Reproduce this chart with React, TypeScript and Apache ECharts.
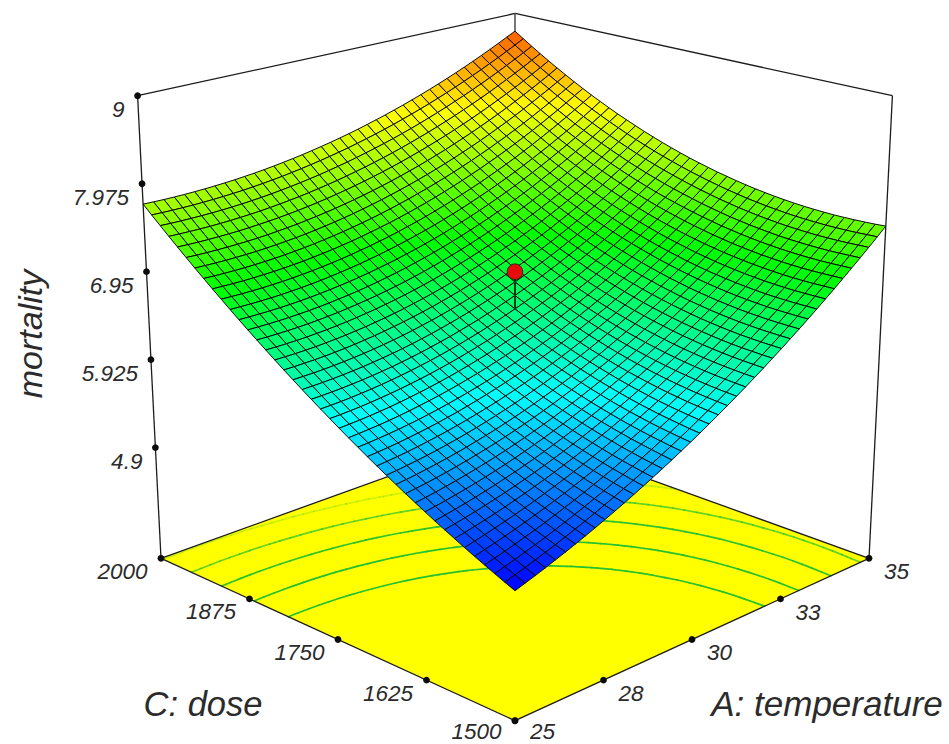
import React, { useEffect, useRef } from "react";
import * as echarts from "echarts";

const temperatureTicks = [25, 27.5, 30, 32.5, 35];
const temperatureLabels = ["25", "28", "30", "33", "35"];
const doseTicks = [1500, 1625, 1750, 1875, 2000];
const doseLabels = ["1500", "1625", "1750", "1875", "2000"];
const mortalityTicks = [4.9, 5.925, 6.95, 7.975, 9];
const mortalityLabels = ["4.9", "5.925", "6.95", "7.975", "9"];
const contourLevels = [6.5, 6.81, 7.13, 7.45, 7.77];
const designPoint = [30, 1750, 7.03];

// mortality x 100, one row per dose step (1500 to 2000), one column per temperature step (25 to 35)
const mortalityGrid: number[][] = [
[503.7,507.3,511.0,514.9,519.0,523.1,527.4,531.8,536.4,541.1,545.9,550.9,556.0,561.3,566.7,572.2,577.8,583.6,589.6,595.6,601.9,608.2,614.7,621.4,628.1,635.0,642.0,649.2,656.5,664.0,671.5,679.2,687.1,695.1,703.2,711.5,719.9,728.4,737.1,745.9,755.0],
[508.3,511.7,515.2,518.9,522.7,526.6,530.7,535.0,539.3,543.8,548.5,553.3,558.2,563.3,568.5,573.9,579.4,585.0,590.8,596.7,602.9,609.1,615.5,622.0,628.6,635.4,642.3,649.4,656.6,664.0,671.5,679.1,686.9,694.8,702.9,711.1,719.4,727.9,736.5,745.3,754.1],
[513.1,516.2,519.5,523.0,526.6,530.3,534.2,538.3,542.5,546.8,551.3,555.9,560.7,565.6,570.7,575.9,581.3,586.8,592.4,598.2,604.1,610.2,616.4,622.8,629.3,636.0,642.8,649.8,656.9,664.1,671.5,679.0,686.7,694.6,702.5,710.7,718.9,727.3,735.9,744.6,753.5],
[518.0,520.9,524.0,527.3,530.7,534.2,537.9,541.8,545.8,549.9,554.2,558.7,563.3,568.0,572.9,578.0,583.2,588.5,594.0,599.7,605.5,611.4,617.5,623.8,630.2,636.7,643.4,650.3,657.3,664.4,671.7,679.2,686.8,694.5,702.4,710.5,718.7,727.0,735.5,744.2,753.0],
[522.9,525.7,528.6,531.7,534.9,538.2,541.7,545.4,549.2,553.2,557.3,561.6,566.0,570.6,575.3,580.2,585.3,590.5,595.8,601.3,607.0,612.9,618.8,625.0,631.3,637.7,644.3,651.0,657.9,665.0,672.2,679.5,687.0,694.7,702.5,710.5,718.6,726.9,735.4,744.0,752.7],
[528.0,530.6,533.3,536.2,539.2,542.4,545.7,549.2,552.9,556.7,560.6,564.7,569.0,573.4,578.0,582.8,587.7,592.7,598.0,603.3,608.8,614.5,620.4,626.4,632.6,638.9,645.4,652.0,658.8,665.7,672.8,680.1,687.5,695.1,702.8,710.7,718.8,727.0,735.3,743.9,752.5],
[533.3,535.6,538.1,540.8,543.6,546.6,549.8,553.1,556.6,560.2,564.0,568.0,572.1,576.4,580.8,585.4,590.2,595.1,600.2,605.4,610.8,616.4,622.1,628.0,634.1,640.3,646.6,653.2,659.9,666.7,673.7,680.9,688.2,695.7,703.4,711.2,719.2,727.3,735.6,744.1,752.7],
[538.6,540.8,543.1,545.6,548.2,551.1,554.0,557.2,560.5,564.0,567.6,571.4,575.4,579.5,583.8,588.3,592.9,597.7,602.6,607.7,613.0,618.5,624.1,629.9,635.8,641.9,648.2,654.6,661.2,667.9,674.9,681.9,689.2,696.6,704.2,711.9,719.8,727.8,736.1,744.5,753.0],
[544.0,546.0,548.2,550.5,553.0,555.7,558.5,561.5,564.6,567.9,571.4,575.1,578.9,582.9,587.0,591.3,595.8,600.5,605.3,610.3,615.4,620.8,626.2,631.9,637.7,643.7,649.8,656.2,662.6,669.3,676.1,683.1,690.3,697.6,705.1,712.7,720.6,728.5,736.7,745.0,753.5],
[549.6,551.4,553.4,555.5,557.9,560.3,563.0,565.8,568.8,572.0,575.3,578.9,582.5,586.4,590.4,594.6,599.0,603.5,608.2,613.1,618.0,623.2,628.6,634.2,639.9,645.8,651.8,658.0,664.4,671.0,677.7,684.6,691.7,698.9,706.3,713.9,721.6,729.5,737.6,745.8,754.2],
[555.3,556.9,558.7,560.7,562.9,565.2,567.7,570.4,573.2,576.2,579.4,582.8,586.3,590.0,593.9,598.0,602.2,606.6,611.2,615.9,620.9,625.9,631.2,636.6,642.2,648.0,654.0,660.1,666.4,672.8,679.4,686.2,693.2,700.4,707.7,715.2,722.9,730.7,738.7,746.9,755.2],
[561.1,562.6,564.2,566.1,568.1,570.3,572.6,575.2,577.9,580.7,583.8,587.0,590.4,594.0,597.7,601.7,605.8,610.0,614.5,619.1,623.9,628.8,634.0,639.3,644.8,650.4,656.3,662.3,668.5,674.8,681.3,688.1,694.9,702.0,709.2,716.6,724.2,732.0,739.9,748.0,756.3],
[567.0,568.3,569.8,571.5,573.4,575.4,577.6,580.0,582.6,585.3,588.2,591.3,594.6,598.0,601.6,605.4,609.4,613.5,617.9,622.4,627.1,631.9,637.0,642.2,647.6,653.1,658.9,664.8,670.9,677.2,683.6,690.2,697.0,704.0,711.2,718.5,726.0,733.7,741.5,749.5,757.7],
[573.0,574.2,575.6,577.1,578.8,580.7,582.8,585.0,587.5,590.1,592.9,595.9,599.0,602.3,605.8,609.5,613.3,617.4,621.6,626.0,630.5,635.2,640.2,645.3,650.5,656.0,661.6,667.4,673.4,679.6,685.9,692.4,699.1,706.0,713.1,720.3,727.7,735.3,743.1,751.0,759.2],
[579.2,580.2,581.4,582.8,584.4,586.2,588.1,590.2,592.5,595.0,597.7,600.5,603.5,606.7,610.1,613.7,617.4,621.3,625.4,629.7,634.1,638.8,643.6,648.6,653.8,659.1,664.7,670.4,676.3,682.4,688.6,695.1,701.7,708.5,715.4,722.6,729.9,737.4,745.1,753.0,761.0],
[585.4,586.3,587.4,588.7,590.2,591.8,593.6,595.6,597.8,600.1,602.7,605.4,608.3,611.4,614.6,618.1,621.7,625.5,629.5,633.6,637.9,642.5,647.2,652.1,657.2,662.4,667.9,673.5,679.3,685.2,691.4,697.7,704.3,711.0,717.8,724.9,732.2,739.6,747.2,755.0,763.0],
[591.8,592.6,593.6,594.7,596.0,597.5,599.2,601.1,603.1,605.4,607.8,610.4,613.1,616.1,619.2,622.6,626.1,629.8,633.6,637.7,642.0,646.4,651.0,655.8,660.8,665.9,671.3,676.8,682.5,688.4,694.4,700.7,707.1,713.7,720.5,727.5,734.7,742.0,749.6,757.3,765.2],
[598.3,599.0,599.8,600.8,602.0,603.4,605.0,606.8,608.7,610.8,613.1,615.6,618.3,621.1,624.2,627.4,630.8,634.4,638.1,642.1,646.2,650.5,655.0,659.7,664.6,669.7,674.9,680.3,685.9,691.7,697.7,703.9,710.2,716.7,723.4,730.3,737.4,744.7,752.1,759.7,767.5],
[604.9,605.5,606.2,607.1,608.2,609.4,610.9,612.6,614.4,616.4,618.6,621.0,623.5,626.3,629.2,632.3,635.6,639.1,642.7,646.6,650.6,654.9,659.3,663.9,668.6,673.6,678.7,684.1,689.6,695.3,701.2,707.2,713.5,719.9,726.5,733.3,740.3,747.5,754.8,762.4,770.1],
[611.7,612.1,612.7,613.5,614.5,615.7,617.0,618.6,620.3,622.2,624.3,626.6,629.0,631.7,634.5,637.5,640.7,644.1,647.7,651.4,655.3,659.4,663.7,668.2,672.9,677.7,682.8,688.0,693.4,699.0,704.8,710.8,716.9,723.3,729.8,736.5,743.4,750.5,757.8,765.2,772.8],
[618.5,618.8,619.3,620.0,620.9,622.0,623.2,624.7,626.3,628.1,630.1,632.3,634.6,637.2,639.9,642.8,645.9,649.2,652.7,656.3,660.1,664.1,668.3,672.7,677.3,682.1,687.0,692.2,697.5,703.0,708.7,714.6,720.6,726.9,733.3,739.9,746.7,753.7,760.9,768.3,775.8],
[625.5,625.7,626.1,626.7,627.5,628.4,629.6,630.9,632.4,634.1,636.0,638.1,640.4,642.8,645.4,648.3,651.3,654.4,657.8,661.4,665.1,669.1,673.2,677.5,682.0,686.7,691.5,696.6,701.8,707.2,712.8,718.6,724.6,730.7,737.1,743.6,750.3,757.2,764.3,771.6,779.0],
[632.5,632.7,633.0,633.5,634.2,635.1,636.1,637.4,638.8,640.4,642.2,644.2,646.4,648.7,651.3,654.0,656.9,660.0,663.3,666.7,670.4,674.2,678.2,682.4,686.8,691.4,696.2,701.1,706.3,711.6,717.1,722.8,728.7,734.7,741.0,747.4,754.0,760.8,767.8,775.0,782.4],
[639.7,639.8,640.0,640.4,641.0,641.8,642.8,643.9,645.3,646.8,648.5,650.4,652.5,654.8,657.2,659.9,662.7,665.7,668.9,672.3,675.8,679.6,683.5,687.6,691.9,696.4,701.1,706.0,711.0,716.2,721.7,727.3,733.0,739.0,745.2,751.5,758.0,764.7,771.6,778.7,786.0],
[647.0,647.0,647.2,647.5,648.0,648.7,649.6,650.7,652.0,653.4,655.1,656.9,658.9,661.1,663.4,666.0,668.7,671.6,674.7,678.0,681.5,685.1,689.0,693.0,697.2,701.6,706.2,711.0,715.9,721.1,726.4,731.9,737.6,743.5,749.5,755.8,762.2,768.8,775.6,782.6,789.8],
[654.5,654.4,654.4,654.7,655.1,655.8,656.6,657.6,658.8,660.1,661.7,663.4,665.3,667.4,669.7,672.2,674.8,677.7,680.7,683.9,687.3,690.9,694.7,698.6,702.8,707.1,711.6,716.2,721.1,726.2,731.4,736.8,742.4,748.2,754.2,760.3,766.6,773.2,779.9,786.8,793.8],
[662.0,661.8,661.9,662.0,662.4,663.0,663.7,664.7,665.8,667.1,668.6,670.2,672.1,674.1,676.3,678.7,681.3,684.0,687.0,690.1,693.4,696.9,700.6,704.4,708.5,712.7,717.1,721.7,726.5,731.4,736.6,741.9,747.4,753.1,759.0,765.0,771.3,777.7,784.3,791.1,798.1],
[669.7,669.4,669.4,669.5,669.8,670.3,671.0,671.9,672.9,674.2,675.6,677.2,678.9,680.9,683.0,685.3,687.8,690.5,693.4,696.4,699.7,703.1,706.7,710.4,714.4,718.5,722.9,727.4,732.0,736.9,742.0,747.2,752.6,758.2,764.0,770.0,776.1,782.4,788.9,795.6,802.5],
[677.4,677.2,677.1,677.2,677.4,677.9,678.5,679.3,680.3,681.5,682.8,684.3,686.0,687.9,690.0,692.2,694.6,697.3,700.0,703.0,706.1,709.5,713.0,716.7,720.5,724.6,728.8,733.2,737.8,742.6,747.5,752.7,758.0,763.5,769.2,775.0,781.1,787.3,793.7,800.3,807.0],
[685.3,685.0,684.9,684.9,685.1,685.5,686.1,686.8,687.8,688.9,690.2,691.6,693.3,695.1,697.1,699.3,701.6,704.2,706.9,709.8,712.8,716.0,719.5,723.1,726.9,730.8,735.0,739.3,743.8,748.5,753.4,758.4,763.7,769.1,774.7,780.4,786.4,792.5,798.8,805.3,811.9],
[693.3,693.0,692.8,692.8,692.9,693.3,693.8,694.5,695.4,696.4,697.7,699.1,700.7,702.4,704.4,706.5,708.8,711.2,713.9,716.7,719.7,722.8,726.2,729.7,733.4,737.3,741.4,745.6,750.0,754.6,759.4,764.3,769.5,774.8,780.2,785.9,791.7,797.7,803.9,810.3,816.9],
[701.5,701.1,700.8,700.8,700.9,701.2,701.6,702.3,703.1,704.1,705.3,706.6,708.2,709.9,711.8,713.8,716.0,718.4,721.0,723.8,726.7,729.8,733.1,736.6,740.2,744.0,748.0,752.1,756.5,761.0,765.7,770.5,775.6,780.8,786.2,791.7,797.5,803.4,809.5,815.7,822.1],
[709.7,709.3,709.0,708.9,709.0,709.3,709.7,710.3,711.1,712.0,713.2,714.5,715.9,717.6,719.4,721.4,723.6,725.9,728.4,731.1,734.0,737.0,740.2,743.6,747.2,750.9,754.8,758.9,763.1,767.6,772.2,776.9,781.9,787.0,792.3,797.7,803.4,809.2,815.2,821.3,827.6],
[718.1,717.6,717.3,717.2,717.2,717.5,717.9,718.4,719.2,720.1,721.2,722.4,723.9,725.5,727.2,729.2,731.3,733.5,736.0,738.6,741.5,744.4,747.6,750.9,754.4,758.0,761.8,765.8,770.0,774.3,778.8,783.5,788.3,793.3,798.5,803.9,809.4,815.1,821.0,827.0,833.2],
[726.5,726.1,725.8,725.6,725.7,725.9,726.2,726.8,727.5,728.4,729.4,730.6,732.0,733.6,735.3,737.2,739.2,741.5,743.9,746.4,749.2,752.1,755.1,758.4,761.8,765.4,769.1,773.0,777.1,781.3,785.7,790.3,795.1,800.0,805.1,810.3,815.8,821.4,827.1,833.0,839.1],
[735.1,734.6,734.3,734.2,734.2,734.4,734.7,735.2,735.9,736.8,737.8,738.9,740.3,741.8,743.5,745.3,747.3,749.5,751.8,754.3,757.0,759.8,762.8,766.0,769.3,772.8,776.5,780.3,784.3,788.5,792.8,797.3,801.9,806.7,811.7,816.9,822.2,827.7,833.3,839.1,845.1],
[743.8,743.3,743.0,742.9,742.9,743.1,743.4,743.9,744.6,745.4,746.4,747.5,748.8,750.3,751.9,753.7,755.7,757.8,760.1,762.5,765.1,767.9,770.8,773.9,777.2,780.6,784.2,787.9,791.8,795.9,800.1,804.5,809.1,813.8,818.7,823.7,828.9,834.3,839.8,845.5,851.4],
[752.6,752.2,751.9,751.7,751.7,751.9,752.2,752.7,753.3,754.1,755.1,756.2,757.5,758.9,760.5,762.3,764.2,766.2,768.5,770.9,773.4,776.1,779.0,782.0,785.2,788.6,792.1,795.7,799.6,803.5,807.7,812.0,816.4,821.0,825.8,830.8,835.9,841.1,846.5,852.1,857.8],
[761.6,761.1,760.8,760.7,760.7,760.8,761.1,761.6,762.2,763.0,763.9,765.0,766.3,767.7,769.2,771.0,772.8,774.9,777.1,779.4,781.9,784.6,787.4,790.3,793.4,796.7,800.1,803.7,807.5,811.4,815.4,819.7,824.0,828.5,833.2,838.0,843.0,848.2,853.5,858.9,864.5],
[770.6,770.2,769.9,769.8,769.8,770.0,770.3,770.8,771.4,772.1,773.1,774.1,775.4,776.7,778.3,780.0,781.8,783.8,785.9,788.2,790.6,793.2,796.0,798.9,801.9,805.1,808.5,812.0,815.6,819.4,823.4,827.5,831.8,836.2,840.8,845.5,850.4,855.4,860.6,865.9,871.4],
[779.8,779.4,779.1,779.0,779.0,779.2,779.5,780.0,780.6,781.3,782.3,783.3,784.5,785.9,787.4,789.0,790.8,792.8,794.9,797.1,799.5,802.0,804.7,807.6,810.6,813.7,817.0,820.4,824.0,827.7,831.6,835.6,839.8,844.1,848.6,853.2,858.0,862.9,868.0,873.2,878.4],
];

const A0 = 25, A1 = 35, C0 = 1500, C1 = 2000, Z0 = 3.61, Z1 = 9;
const k = 402.5, a = 0.137, c = -0.0705, g = -85.9, h = -532.7;
const N = mortalityGrid.length - 1;

const project = (u: number, v: number, w: number) => {
  const d = 1 + a * (u + v) + c * w;
  return [515 + (k * (u - v)) / d, (720.7 + g * (u + v) + h * w) / d];
};
const toW = (z: number) => (z - Z0) / (Z1 - Z0);
const lerp = (p: number[], q: number[], f: number) => [p[0] + (q[0] - p[0]) * f, p[1] + (q[1] - p[1]) * f];

const F = project(0, 0, 0), L = project(0, 1, 0), R = project(1, 0, 0), B = project(1, 1, 0);
const TL = project(0, 1, 1), TR = project(1, 0, 1), TB = project(1, 1, 1);

const stops = ["#0000ff", "#00ffff", "#00ff00", "#ffff00", "#ff0000"];
const colorFor = (z: number) => echarts.color.lerp(Math.max(0, Math.min(1, (z - 5.04) / (9.15 - 5.04))), stops) as string;

const cellData: number[][] = [];
for (let s = 2 * N - 2; s >= 0; s--) {
  for (let i = 0; i < N; i++) {
    const j = s - i;
    if (j >= 0 && j < N) cellData.push([i, j]);
  }
}

const gridZ = (i: number, j: number) => mortalityGrid[j][i] / 100;

function contourSegments(level: number) {
  const segs: number[][][] = [];
  for (let j = 0; j < N; j++) {
    for (let i = 0; i < N; i++) {
      const corners = [[i, j], [i + 1, j], [i + 1, j + 1], [i, j + 1]];
      const pts: number[][] = [];
      for (let e = 0; e < 4; e++) {
        const p = corners[e], q = corners[(e + 1) % 4];
        const zp = gridZ(p[0], p[1]), zq = gridZ(q[0], q[1]);
        if ((zp < level) !== (zq < level)) {
          const f = (level - zp) / (zq - zp);
          pts.push([(p[0] + (q[0] - p[0]) * f) / N, (p[1] + (q[1] - p[1]) * f) / N]);
        }
      }
      if (pts.length >= 2) segs.push([pts[0], pts[1]]);
    }
  }
  return segs;
}

const contourOpacity = [1, 1, 0.95, 0.7, 0.22];
const ink = "#2b2b2b";
const textFont = { fontFamily: '"Liberation Sans", Arial, sans-serif', fontStyle: "italic" };

const seg = (api: any, p: number[], q: number[], style: any) => {
  const s = api.coord(p), e = api.coord(q);
  return { type: "line", silent: true, shape: { x1: s[0], y1: s[1], x2: e[0], y2: e[1] }, style };
};
const dot = (api: any, p: number[], r = 3.4) => {
  const s = api.coord(p);
  return { type: "circle", silent: true, shape: { cx: s[0], cy: s[1], r }, style: { fill: "#0b0b0b" } };
};
const label = (api: any, p: number[], text: string, size: number, align = "center", rotation = 0) => {
  const s = api.coord(p);
  return {
    type: "text", silent: true, x: s[0], y: s[1], rotation,
    style: { text, x: 0, y: 0, align, verticalAlign: "middle", fill: ink, fontSize: size, ...textFont },
  };
};

const baseSeries = (renderItem: any) => ({
  type: "custom", coordinateSystem: "cartesian2d", silent: true, clip: false,
  data: [[0, 0]], renderItem,
});

export default function App() {
  const ref = useRef<HTMLDivElement>(null);
  useEffect(() => {
    document.body.style.margin = "0";
    const chart = echarts.init(ref.current!, undefined, { renderer: "svg" });
    const edge = { stroke: "#1c1c1c", lineWidth: 1.3 };
    const option: any = {
      animation: false,
      grid: { left: 0, right: 0, top: 0, bottom: 0 },
      xAxis: { type: "value", min: 0, max: 949, show: false },
      yAxis: { type: "value", min: 0, max: 744, inverse: true, show: false },
      series: [
        baseSeries((_: any, api: any) => ({
          type: "polygon", silent: true,
          shape: { points: [F, R, B, L].map((p) => api.coord(p)) },
          style: { fill: "#ffff00" },
        })),
        {
          type: "custom", coordinateSystem: "cartesian2d", silent: true, clip: false,
          data: contourLevels.map((l, i) => [l, i]),
          renderItem: (_: any, api: any) => {
            const idx = api.value(1);
            const children = contourSegments(api.value(0)).map((sg) =>
              seg(api, project(sg[0][0], sg[0][1], 0), project(sg[1][0], sg[1][1], 0), {
                stroke: "#26c030", lineWidth: 1.7, opacity: contourOpacity[idx], lineCap: "round",
              })
            );
            return { type: "group", children };
          },
        },
        baseSeries((_: any, api: any) => ({
          type: "group",
          children: [
            seg(api, L, F, edge), seg(api, F, R, edge), seg(api, L, B, edge), seg(api, R, B, edge),
            seg(api, L, TL, edge), seg(api, R, TR, edge), seg(api, TL, TB, edge), seg(api, TR, TB, edge),
            seg(api, TB, B, { stroke: "#555", lineWidth: 1.6 }),
          ],
        })),
        {
          type: "custom", coordinateSystem: "cartesian2d", silent: true, clip: false, progressive: 0,
          data: cellData,
          renderItem: (_: any, api: any) => {
            const i = api.value(0), j = api.value(1);
            const corners = [[i, j], [i + 1, j], [i + 1, j + 1], [i, j + 1]];
            const zs = corners.map((p) => gridZ(p[0], p[1]));
            const mean = (zs[0] + zs[1] + zs[2] + zs[3]) / 4;
            return {
              type: "polygon", silent: true,
              shape: { points: corners.map((p, n) => api.coord(project(p[0] / N, p[1] / N, toW(zs[n])))) },
              style: { fill: colorFor(mean), stroke: "#0a0a0a", lineWidth: 1, lineJoin: "round" },
            };
          },
        },
        baseSeries((_: any, api: any) => {
          const u = (designPoint[0] - A0) / (A1 - A0), v = (designPoint[1] - C0) / (C1 - C0);
          const top = project(u, v, toW(designPoint[2]));
          const surface = project(u, v, toW(gridZ(N / 2, N / 2)));
          const s = api.coord(top);
          return {
            type: "group",
            children: [
              seg(api, top, surface, { stroke: "#0c3a12", lineWidth: 2 }),
              { type: "circle", silent: true, shape: { cx: s[0], cy: s[1], r: 7.8 }, style: { fill: "#e60c0c", stroke: "#3a2010", lineWidth: 1 } },
            ],
          };
        }),
        baseSeries((_: any, api: any) => {
          const children: any[] = [];
          mortalityTicks.forEach((z, i) => {
            const p = lerp(TL, L, (Z1 - z) / (Z1 - Z0));
            children.push(dot(api, p));
            children.push(label(api, [p[0] - 13, p[1] + 13.7], mortalityLabels[i], 22.5, "right"));
          });
          doseTicks.forEach((d, i) => {
            const p = lerp(F, L, (d - C0) / (C1 - C0));
            children.push(dot(api, p));
            children.push(label(api, [p[0] - 38.5, Math.min(p[1] + 13, 731.5)], doseLabels[i], 22.5));
          });
          temperatureTicks.forEach((t, i) => {
            const p = lerp(F, R, (t - A0) / (A1 - A0));
            children.push(dot(api, p));
            children.push(label(api, [p[0] + 27.5, Math.min(p[1] + 13.3, 731.5)], temperatureLabels[i], 22.5));
          });
          children.push(label(api, [203, 704], "C: dose", 34.5));
          children.push(label(api, [827, 703], "A: temperature", 35));
          children.push(label(api, [30, 334], "mortality", 34, "center", Math.PI / 2));
          return { type: "group", children };
        }),
      ],
    };
    chart.setOption(option);
    return () => chart.dispose();
  }, []);
  return <div ref={ref} style={{ width: 949, height: 744 }} />;
}
